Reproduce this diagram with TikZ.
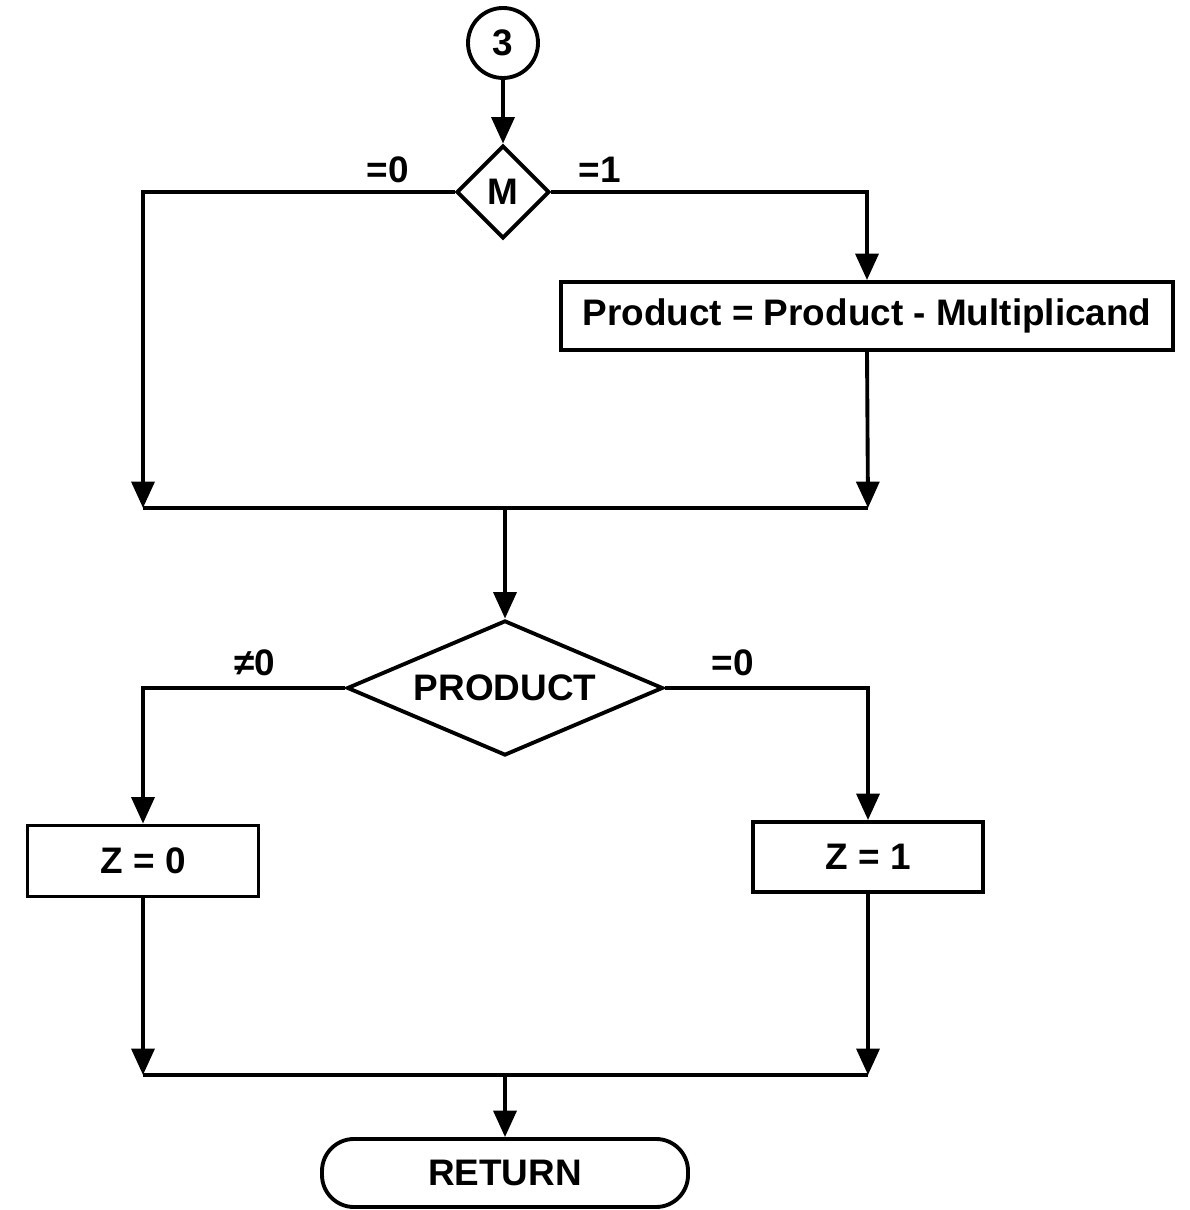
\documentclass[tikz,border=0pt]{standalone}
\usepackage{fontspec}
\setmainfont{Liberation Sans}
\usetikzlibrary{shapes.geometric,arrows.meta}

\tikzset{
  flow/.style={line width=1.1pt},
  arr/.style={flow,-{Triangle[width=6.5pt,length=7.5pt]}},
  procbox/.style={draw,flow,rectangle,inner sep=0pt},
  decide/.style={draw,flow,diamond,inner sep=0pt},
  lbl/.style={inner sep=1pt},
}

\begin{document}
\begin{tikzpicture}[font=\fontsize{10.5}{12}\bfseries\selectfont]
  \useasboundingbox (0,0) rectangle (11.9,12.1);
  % nodes
  \node[draw,flow,circle,minimum size=0.70cm,inner sep=0pt] (conn) at (5.03,11.67) {3};
  \node[decide,aspect=1,minimum width=0.93cm,minimum height=0.93cm] (M) at (5.03,10.18) {M};
  \node[procbox,minimum width=6.12cm,minimum height=0.68cm] (sub) at (8.67,8.94)
    {Product = Product - Multiplicand};
  \node[decide,aspect=2.34,minimum width=3.16cm,minimum height=1.35cm] (prod) at (5.05,5.22) {PRODUCT};
  \node[procbox,minimum width=2.31cm,minimum height=0.71cm] (zzero) at (1.43,3.49) {Z = 0};
  \node[procbox,minimum width=2.30cm,minimum height=0.70cm] (zone) at (8.68,3.53) {Z = 1};
  \node[draw,flow,rectangle,rounded corners=0.32cm,minimum width=3.66cm,minimum height=0.68cm]
    (ret) at (5.05,0.37) {RETURN};
  % junctions
  \coordinate (jl) at (1.43,7.02); \coordinate (jr) at (8.68,7.02);
  \coordinate (jm) at (5.05,7.02);
  \coordinate (kl) at (1.43,1.35); \coordinate (kr) at (8.68,1.35);
  \coordinate (km) at (5.05,1.35);
  % branch labels
  \node[lbl] (mzero) at (3.88,10.40) {=0};
  \node[lbl] (mone) at (6.00,10.40) {=1};
  \node[lbl] (pne) at (2.55,5.47) {≠0};
  \node[lbl] (peq) at (7.33,5.47) {=0};
  % connectors
  \draw[arr] (conn) -- (M);
  \draw[arr] (M.west) -| (jl);
  \draw[arr] (M.east) -| (sub.north);
  \draw[arr] (sub.south) -- (jr);
  \draw[flow] (jl) -- (jr);
  \draw[arr] (jm) -- (prod.north);
  \draw[arr] (prod.west) -| (zzero.north);
  \draw[arr] (prod.east) -| (zone.north);
  \draw[arr] (zzero.south) -- (kl);
  \draw[arr] (zone.south) -- (kr);
  \draw[flow] (kl) -- (kr);
  \draw[arr] (km) -- (ret.north);
\end{tikzpicture}
\end{document}
